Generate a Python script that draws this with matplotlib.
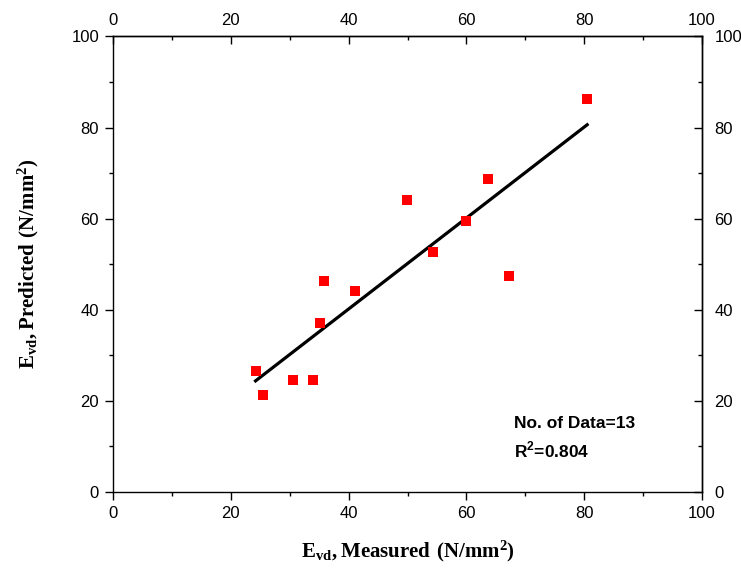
import numpy as np
import matplotlib.pyplot as plt
from matplotlib.ticker import MultipleLocator

# measured vs predicted Evd (N/mm2)
measured = [24.2, 25.4, 30.5, 33.9, 35.1, 35.9, 41.0, 49.9, 54.3, 59.9, 63.6, 67.3, 80.5]
predicted = [26.6, 21.3, 24.6, 24.6, 37.1, 46.4, 44.2, 64.0, 52.7, 59.6, 68.8, 47.5, 86.2]
ticks = [0, 20, 40, 60, 80, 100]

plt.rcParams['font.family'] = ['Liberation Sans', 'DejaVu Sans']
plt.rcParams['mathtext.fontset'] = 'custom'
plt.rcParams['mathtext.rm'] = 'Liberation Serif:bold'
plt.rcParams['mathtext.bf'] = 'Liberation Serif:bold'

fig = plt.figure(figsize=(7.41, 5.71), dpi=100)
ax = fig.add_axes([0.1525, 0.1384, 0.7949, 0.7977])

ax.scatter(measured, predicted, marker='s', s=44, color='#ff0000', zorder=3, linewidths=0)

# linear fit line over the measured range
k, b = np.polyfit(measured, predicted, 1)
xs = np.array([min(measured), max(measured)])
ax.plot(xs, k * xs + b, color='black', lw=2.3, zorder=2)

ax.set_xlim(0, 100)
ax.set_ylim(0, 100)
ax.set_xticks(ticks)
ax.set_yticks(ticks)
ax.xaxis.set_minor_locator(MultipleLocator(10))
ax.yaxis.set_minor_locator(MultipleLocator(10))
ax.tick_params(which='major', direction='out', length=6, width=1, labelsize=12, pad=4)
ax.tick_params(which='minor', direction='out', length=3, width=1)
for sp in ax.spines.values():
    sp.set_linewidth(1.0)

# top and right axes with inward ticks
top = ax.secondary_xaxis('top')
top.set_xticks(ticks)
top.xaxis.set_minor_locator(MultipleLocator(10))
top.tick_params(which='major', direction='in', length=6, width=1, labelsize=12, pad=6)
top.tick_params(which='minor', direction='in', length=3, width=1)
top.spines['top'].set_linewidth(1.0)

right = ax.secondary_yaxis('right')
right.set_yticks(ticks)
right.yaxis.set_minor_locator(MultipleLocator(10))
right.tick_params(which='major', direction='in', length=6, width=1, labelsize=12, pad=9)
right.tick_params(which='minor', direction='in', length=3, width=1)
right.spines['right'].set_linewidth(1.0)

ax.set_xlabel(r'$\mathrm{E_{vd}, Measured\ (N/mm^{2})}$', fontsize=15, labelpad=13)
ax.set_ylabel(r'$\mathrm{E_{vd}, Predicted\ (N/mm^{2})}$', fontsize=15, labelpad=22)

ax.text(68.1, 14.1, 'No. of Data=13', fontsize=12.5, fontweight='bold')
ax.text(68.1, 7.5, r'R$^\mathregular{2}$=0.804', fontsize=12.5, fontweight='bold')

fig.savefig('out.png', dpi=100)
